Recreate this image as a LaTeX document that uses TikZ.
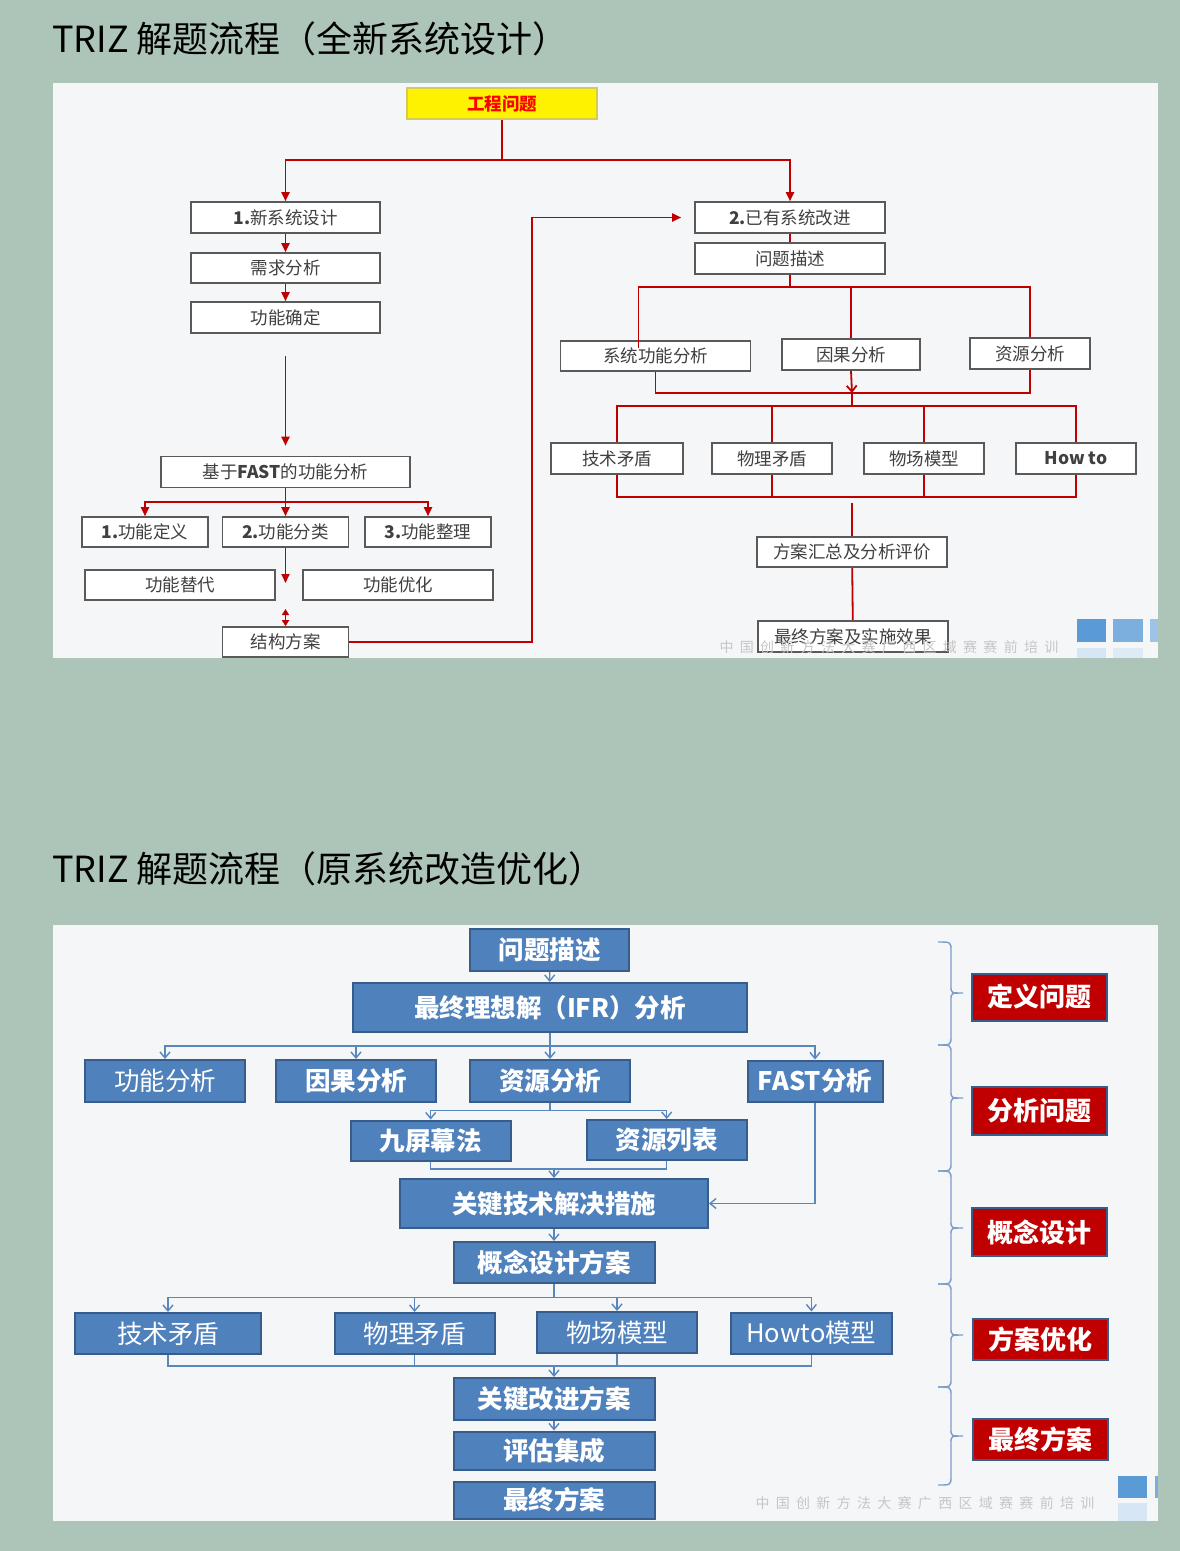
\documentclass[tikz,border=0pt]{standalone}
\usepackage{fontspec}
\setmainfont{Noto Sans CJK SC}
\newfontfamily\wmfont[LetterSpace=45]{Noto Sans CJK SC}
\usepackage{xcolor}
\usetikzlibrary{arrows.meta,positioning,calc}
\definecolor{pagebg}{HTML}{ADC4B8}
\definecolor{panelbg}{HTML}{F4F6F7}
\definecolor{gborder}{HTML}{5A5A5A}
\definecolor{gtext}{HTML}{404040}
\definecolor{tred}{HTML}{C00000}
\definecolor{bfill}{HTML}{4F81BD}
\definecolor{bborder}{HTML}{385D8A}
\definecolor{bline}{HTML}{5A86BE}
\definecolor{sqblue}{HTML}{5B9BD5}

\begin{document}
\begin{tikzpicture}[x=1pt,y=-1pt,
  gbox/.style={draw=gborder,line width=1.6pt,fill=white,text=gtext,inner sep=0pt,
    font=\fontsize{17.5}{20}\selectfont},
  bbox/.style={draw=bborder,line width=2pt,fill=bfill,text=white,inner sep=0pt,
    font=\fontsize{25.5}{30}\selectfont\bfseries},
  lbox/.style={bbox,font=\fontsize{25.5}{30}\selectfont},
  rbox/.style={draw=bborder,line width=2pt,fill=tred,text=white,inner sep=0pt,
    minimum width=135pt,font=\fontsize{26}{30}\selectfont\bfseries},
  rline/.style={draw=tred,line width=1.8pt,>={Triangle[length=9pt,width=8pt]}},
  bcon/.style={draw=bline,line width=1.4pt,>={Straight Barb[length=6pt,width=10pt]}},
  brace/.style={draw=bline!80,line width=1.4pt},
  title/.style={anchor=west,inner sep=0pt,text=black,font=\fontsize{36}{40}\selectfont},
  wm/.style={text=gray!45,inner sep=0pt,font=\wmfont\fontsize{14}{16}\selectfont}]

\useasboundingbox (0,0) rectangle (1180,1551);
\fill[pagebg] (0,0) rectangle (1180,1551);
\fill[panelbg] (53,83) rectangle (1158,658);
\fill[panelbg] (53,925) rectangle (1158,1521);

\node[title] (t1) at (52,39) {TRIZ 解题流程（全新系统设计）};
\node[title] (t2) at (52,869) {TRIZ 解题流程（原系统改造优化）};

% top: new system design
\node[gbox,fill=yellow,draw=yellow!60!gray,text=red,font=\fontsize{17.5}{20}\selectfont\bfseries,
  minimum width=190pt,minimum height=31pt] (eng) at (502,103.5) {工程问题};
\node[gbox,minimum width=189pt,minimum height=31pt] (new) at (285.5,217.5) {{\bfseries 1.}新系统设计};
\node[gbox,minimum width=189pt,minimum height=30pt] (need) at (285.5,268) {需求分析};
\node[gbox,minimum width=189pt,minimum height=31pt] (fdef) at (285.5,317.5) {功能确定};
\node[gbox,minimum width=249pt,minimum height=31pt] (fast) at (285.5,472) {基于{\bfseries FAST}的功能分析};
\node[gbox,minimum width=126pt,minimum height=30pt] (fa) at (145,532) {{\bfseries 1.}功能定义};
\node[gbox,minimum width=126pt,minimum height=30pt] (fb) at (285.5,532) {{\bfseries 2.}功能分类};
\node[gbox,minimum width=126pt,minimum height=30pt] (fc) at (428,532) {{\bfseries 3.}功能整理};
\node[gbox,minimum width=190pt,minimum height=30pt] (fsub) at (180,585) {功能替代};
\node[gbox,minimum width=190pt,minimum height=30pt] (fopt) at (398,585) {功能优化};
\node[gbox,minimum width=126pt,minimum height=30pt] (struct) at (285.5,642) {结构方案};

\node[gbox,minimum width=190pt,minimum height=31pt] (old) at (790,217.5) {{\bfseries 2.}已有系统改进};
\node[gbox,minimum width=190pt,minimum height=31pt] (desc) at (790,258.5) {问题描述};
\node[gbox,minimum width=190pt,minimum height=30pt] (sfa) at (655.5,356) {系统功能分析};
\node[gbox,minimum width=138pt,minimum height=31pt] (cause) at (851,354.5) {因果分析};
\node[gbox,minimum width=120pt,minimum height=31pt] (res) at (1030,353.5) {资源分析};
\node[gbox,minimum width=132pt,minimum height=31pt] (tc) at (617,458.5) {技术矛盾};
\node[gbox,minimum width=120pt,minimum height=31pt] (pc) at (772,458.5) {物理矛盾};
\node[gbox,minimum width=120pt,minimum height=31pt] (su) at (924,458.5) {物场模型};
\node[gbox,minimum width=120pt,minimum height=31pt] (how) at (1076,458.5) {\bfseries How to};
\node[gbox,minimum width=190pt,minimum height=30pt] (sum) at (852,552) {方案汇总及分析评价};
\node[gbox,minimum width=190pt,minimum height=31pt] (res2) at (853,636.5) {最终方案及实施效果};

\coordinate (sp) at (502,160);
\coordinate (fs) at (285.5,502);
\coordinate (fm) at (285.5,583);
\coordinate (fm2) at (285.5,609);
\coordinate (bend) at (532,217.5);
\coordinate (ds) at (790,287);
\coordinate (jn) at (852,393);
\coordinate (jn2) at (852,406);
\coordinate (jb) at (852,497);

\draw[rline] (eng.south) -- (sp);
\draw[rline,->] (sp) -| (new.north);
\draw[rline,->] (sp) -| (old.north);
\draw[rline,->] (new) -- (need);
\draw[rline,->] (need) -- (fdef);
\draw[rline,->,shorten <=22pt,shorten >=10pt] (fdef) -- (fast);
\draw[rline] (fast.south) -- (fs);
\draw[rline,->] (fs) -| (fa.north);
\draw[rline,->] (fs) -- (fb.north);
\draw[rline,->] (fs) -| (fc.north);
\draw[rline,->] (fb.south) -- (fm);
\draw[rline,<->,>={Triangle[length=6pt,width=7pt]}] (fm2) -- (struct.north);
\draw[rline,->,shorten >=13pt] (struct.east) -| (bend) -- (old.west);

\draw[rline] (old) -- (desc);
\draw[rline] (desc.south) -- (ds);
\draw[rline] (ds) -| ([xshift=-17pt,yshift=-8pt]sfa.north);
\draw[rline] (ds) -| (cause.north);
\draw[rline] (ds) -| (res.north);
\draw[rline] (sfa.south) |- (jn) -| (res.south);
\draw[rline,-{Straight Barb[length=6pt,width=10pt]}] (cause.south) -- (jn);
\draw[rline] (jn) -- (jn2);
\draw[rline] (jn2) -| (tc.north);
\draw[rline] (jn2) -| (pc.north);
\draw[rline] (jn2) -| (su.north);
\draw[rline] (jn2) -| (how.north);
\draw[rline] (tc.south) |- (jb) -| (how.south);
\draw[rline] (pc.south) -- (pc.south |- jb);
\draw[rline] (su.south) -- (su.south |- jb);
\draw[rline,shorten <=6pt] (jb) -- (sum.north);
\draw[rline] (sum) -- (res2);

\node[wm] (w1) at (889,647) {中国创新方法大赛广西区域赛赛前培训};
\fill[sqblue] (1077,619) rectangle (1106,642);
\fill[sqblue!80] (1113,619) rectangle (1143,642);
\fill[sqblue!60] (1150,619) rectangle (1158,642);
\fill[sqblue!25] (1077,648) rectangle (1106,658);
\fill[sqblue!20] (1113,648) rectangle (1143,658);

% bottom: improve existing system
\node[bbox,minimum width=159pt,minimum height=42pt] (q) at (549.5,950) {问题描述};
\node[bbox,minimum width=394pt,minimum height=49pt] (ifr) at (550,1007.5) {最终理想解（IFR）分析};
\node[lbox,minimum width=160pt,minimum height=42pt] (fun) at (165,1081) {功能分析};
\node[bbox,minimum width=160pt,minimum height=42pt] (cau) at (356,1081) {因果分析};
\node[bbox,minimum width=160pt,minimum height=42pt] (rsa) at (550,1081) {资源分析};
\node[bbox,minimum width=135pt,minimum height=41pt] (fst) at (815,1081) {FAST分析};
\node[bbox,minimum width=160pt,minimum height=40pt] (nine) at (430.7,1140.5) {九屏幕法};
\node[bbox,minimum width=160pt,minimum height=40pt] (rlist) at (666.7,1140) {资源列表};
\node[bbox,minimum width=308pt,minimum height=49pt] (key) at (554,1203.5) {关键技术解决措施};
\node[bbox,minimum width=201pt,minimum height=41pt] (con) at (554,1262.5) {概念设计方案};
\node[lbox,minimum width=186pt,minimum height=41pt] (tcb) at (168,1333.5) {技术矛盾};
\node[lbox,minimum width=160pt,minimum height=41pt] (pcb) at (414.6,1333.5) {物理矛盾};
\node[lbox,minimum width=160pt,minimum height=41pt] (sub) at (617,1332.5) {物场模型};
\node[lbox,minimum width=161pt,minimum height=41pt] (htm) at (811.4,1333) {Howto模型};
\node[bbox,minimum width=201pt,minimum height=42pt] (imp) at (554,1399) {关键改进方案};
\node[bbox,minimum width=201pt,minimum height=38pt] (ass) at (554,1450.5) {评估集成};
\node[bbox,minimum width=201pt,minimum height=37pt] (fin) at (554,1500) {最终方案};

\coordinate (b1) at (550,1046);
\coordinate (b2) at (550,1110.7);
\coordinate (b3) at (554,1169);
\coordinate (b4) at (554,1297.7);
\coordinate (b5) at (554,1366);

\draw[bcon,->] (q) -- (ifr);
\draw[bcon] (ifr.south) -- (b1);
\draw[bcon,->] (b1) -| (fun.north);
\draw[bcon,->] (b1) -| (cau.north);
\draw[bcon,->] (b1) -- (rsa.north);
\draw[bcon,->] (b1) -| (fst.north);
\draw[bcon] (rsa.south) -- (b2);
\draw[bcon,->] (b2) -| (nine.north);
\draw[bcon,->] (b2) -| (rlist.north);
\draw[bcon] (nine.south) |- (b3) -| (rlist.south);
\draw[bcon,->] (b3) -- (key.north);
\draw[bcon,->] (fst.south) |- (key.east);
\draw[bcon,->] (key) -- (con);
\draw[bcon] (con.south) -- (b4);
\draw[bcon,->] (b4) -| (tcb.north);
\draw[bcon,->] (b4) -| (pcb.north);
\draw[bcon,->] (b4) -| (sub.north);
\draw[bcon,->] (b4) -| (htm.north);
\draw[bcon] (tcb.south) |- (b5) -| (htm.south);
\draw[bcon] (pcb.south) -- (pcb.south |- b5);
\draw[bcon] (sub.south) -- (sub.south |- b5);
\draw[bcon,->] (b5) -- (imp.north);
\draw[bcon,->] (imp) -- (ass);

% stages on the right
\foreach \a/\m/\b in {942/993/1045,1045/1098/1171,1171/1228/1284,1284/1335/1387,1387/1436/1485}
  \draw[brace] (938,\a) .. controls (951,\a) .. (951,{\a+9}) -- (951,{\m-7})
    .. controls (951,\m) .. (963,\m) .. controls (951,\m) .. (951,{\m+7})
    -- (951,{\b-9}) .. controls (951,\b) .. (938,\b);

\node[rbox,minimum height=47pt] (def) at (1039,997) {定义问题};
\node[rbox,minimum height=48pt] (ana) at (1039.5,1110.5) {分析问题};
\node[rbox,minimum height=48pt] (cpt) at (1039,1232) {概念设计};
\node[rbox,minimum height=41pt] (opt) at (1040,1339.5) {方案优化};
\node[rbox,minimum height=41pt] (fnl) at (1040,1439.5) {最终方案};

\node[wm] (w2) at (925,1503) {中国创新方法大赛广西区域赛赛前培训};
\fill[sqblue] (1118,1476) rectangle (1147,1498);
\fill[sqblue!80] (1155,1476) rectangle (1158,1498);
\fill[sqblue!25] (1118,1503) rectangle (1147,1521);
\end{tikzpicture}
\end{document}
